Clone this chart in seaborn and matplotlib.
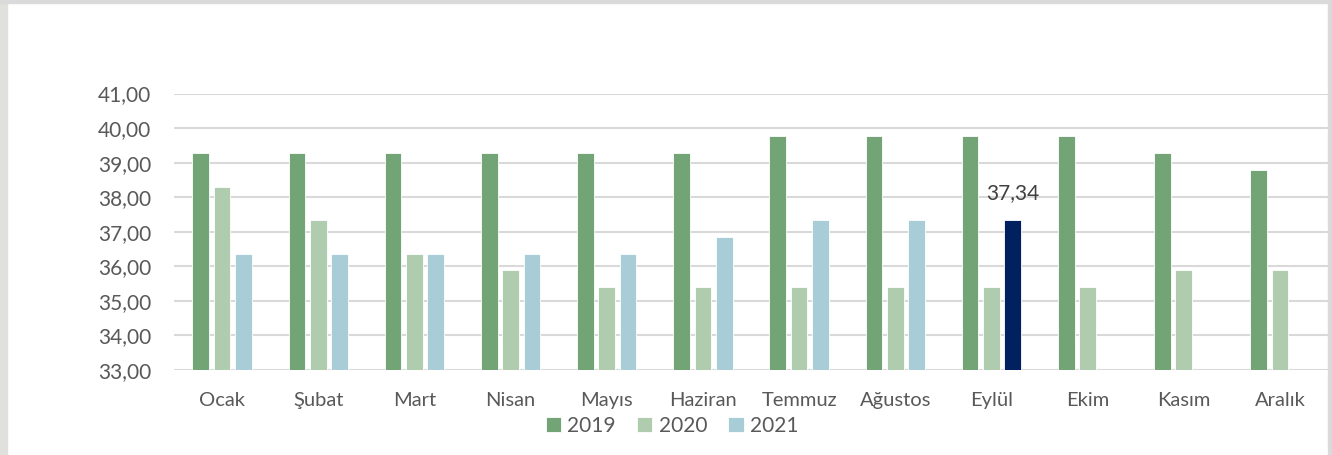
import numpy as np
import pandas as pd
import matplotlib
matplotlib.use("Agg")
import matplotlib.pyplot as plt
import seaborn as sns
from matplotlib.ticker import FuncFormatter, MultipleLocator
from matplotlib.patches import Rectangle

months = ["Ocak", "Şubat", "Mart", "Nisan", "Mayıs", "Haziran", "Temmuz",
          "Ağustos", "Eylül", "Ekim", "Kasım", "Aralık"]
years = ["2019", "2020", "2021"]
v2019 = [39.27, 39.27, 39.27, 39.27, 39.27, 39.27, 39.76, 39.76, 39.76, 39.76, 39.27, 38.79]
v2020 = [38.30, 37.34, 36.37, 35.88, 35.40, 35.40, 35.40, 35.40, 35.40, 35.40, 35.88, 35.88]
v2021 = [36.37, 36.37, 36.37, 36.37, 36.37, 36.86, 37.34, 37.34, 37.34, np.nan, np.nan, np.nan]
highlight_month = "Eylül"
highlight_year = "2021"

colors = ["#72A476", "#B0CCAE", "#A9CDD6"]
highlight_color = "#002060"
text_color = "#595959"

rows = []
for y, vals in zip(years, [v2019, v2020, v2021]):
    for m, v in zip(months, vals):
        rows.append({"Ay": m, "Yıl": y, "Değer": v})
df = pd.DataFrame(rows)

sns.set_theme(style="white")
plt.rcParams["font.family"] = ["Lato", "DejaVu Sans"]

W, H = 1332, 455
fig = plt.figure(figsize=(W / 100, H / 100), dpi=100)
ax = fig.add_axes([174 / W, 85 / H, (1328 - 174) / W, (370 - 93.5) / H])

sns.barplot(data=df, x="Ay", y="Değer", hue="Yıl", order=months, hue_order=years,
            palette=colors, width=0.665, gap=0.22, saturation=1, ax=ax,
            edgecolor="white", linewidth=0.6, legend=True)

ax.set_ylim(33, 41)
ax.set_xlim(-0.5, len(months) - 0.5)
ax.yaxis.set_major_locator(MultipleLocator(1))
ax.yaxis.set_major_formatter(FuncFormatter(lambda v, p: f"{v:.2f}".replace(".", ",")))
ax.grid(axis="y", color="#D9D9D9", linewidth=1.5)
ax.set_axisbelow(True)
for s in ax.spines.values():
    s.set_visible(False)
ax.set_xlabel("")
ax.set_ylabel("")
ax.tick_params(axis="y", length=0, pad=16.5, labelsize=15, labelcolor=text_color)
ax.tick_params(axis="x", length=0, pad=16, labelsize=14.5, labelcolor=text_color)

# highlight bar
hi_idx = months.index(highlight_month)
cont = ax.containers[years.index(highlight_year)]
bar = cont[hi_idx]
bar.set_facecolor(highlight_color)
val = v2021[hi_idx]
ax.annotate(f"{val:.2f}".replace(".", ","),
            xy=(bar.get_x() + bar.get_width() / 2, bar.get_height() + bar.get_y()),
            xytext=(0, 12), textcoords="offset points", ha="center", va="bottom",
            fontsize=15, color="#404040")

leg = ax.legend(loc="upper center", bbox_to_anchor=(0.4315, -0.135), ncol=3, frameon=False,
                handlelength=0.75, handleheight=0.75, handletextpad=0.3,
                columnspacing=1.0, fontsize=15, borderaxespad=0)
for t in leg.get_texts():
    t.set_color(text_color)

# outer frame
fig.patches.append(Rectangle((0, 0), 7 / W, 1, transform=fig.transFigure,
                             color="#E0E0DC", zorder=0))
fig.patches.append(Rectangle((0, 1 - 3 / H), 1, 3 / H, transform=fig.transFigure,
                             color="#DADADA", zorder=0))
fig.patches.append(Rectangle((1 - 4 / W, 0), 4 / W, 1, transform=fig.transFigure,
                             color="#DADADA", zorder=0))

fig.savefig("out.png", dpi=100)
